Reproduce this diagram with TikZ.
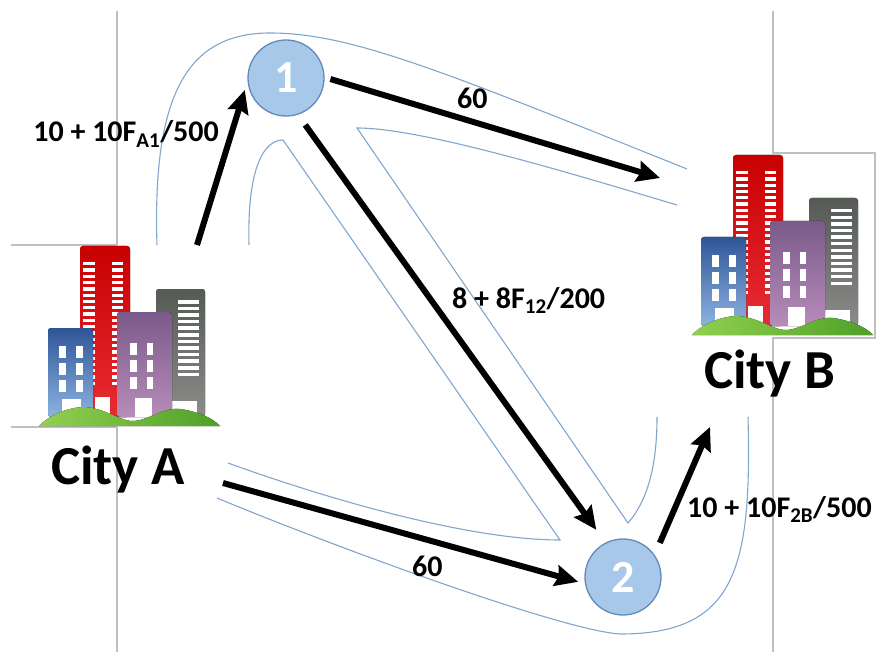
\documentclass[tikz,border=0pt]{standalone}
\usepackage{fontspec}
\setmainfont{Carlito}
\usepackage{tikz}
\usetikzlibrary{positioning}
\usetikzlibrary{arrows.meta}

\definecolor{stopfill}{RGB}{167,200,232}
\definecolor{stopline}{RGB}{98,138,184}
\definecolor{roadline}{RGB}{128,166,206}
\definecolor{framegray}{RGB}{192,192,192}
\definecolor{redtop}{RGB}{200,0,0}
\definecolor{redbot}{RGB}{232,44,52}
\definecolor{bluetop}{RGB}{47,85,151}
\definecolor{bluebot}{RGB}{141,179,226}
\definecolor{purptop}{RGB}{122,90,138}
\definecolor{purpbot}{RGB}{183,140,185}
\definecolor{greytop}{RGB}{85,90,85}
\definecolor{greybot}{RGB}{140,140,138}
\definecolor{hilllight}{RGB}{146,208,80}
\definecolor{hilldark}{RGB}{78,160,40}

\tikzset{stop node/.style={circle,fill=stopfill,draw=stopline,line width=1.3pt,minimum size=76pt,inner sep=0pt,text=white,font=\fontsize{46}{46}\selectfont\bfseries},
  cost/.style={font=\fontsize{30}{30}\selectfont\bfseries,inner sep=0pt},
  city/.style={font=\fontsize{55}{55}\selectfont\bfseries,inner sep=0pt},
  link/.style={line width=6pt,-{Stealth[length=23pt,width=21pt,inset=3pt]}},
  road/.style={draw=roadline,line width=1.1pt},
  frame/.style={draw=framegray,line width=1.2pt},
  % skyline icon, origin at the top left corner of the red tower
  town/.pic={
    \fill[rounded corners=3pt,top color=redtop,bottom color=redbot] (0,171) rectangle (50,0);
    \foreach \k in {0,...,19}{
      \fill[white] (3,{16+6.3*\k}) rectangle (15,{19.3+6.3*\k});
      \fill[white] (32,{16+6.3*\k}) rectangle (43,{19.3+6.3*\k});
    }
    \fill[white] (15,151) rectangle (30,171);
    \fill[rounded corners=3pt,top color=greytop,bottom color=greybot] (76,171) rectangle (125,43);
    \foreach \k in {0,...,11}
      \fill[white] (98,{54+6.6*\k}) rectangle (119,{57.5+6.6*\k});
    \fill[white] (92,155) rectangle (117,171);
    \fill[rounded corners=3pt,top color=bluetop,bottom color=bluebot] (-32,171) rectangle (13,82);
    \fill[rounded corners=3pt,top color=purptop,bottom color=purpbot] (37,171) rectangle (92,66);
    \foreach \k in {0,1,2}{
      \fill[white] (-21,{100+17*\k}) rectangle (-14,{112+17*\k});
      \fill[white] (-4,{100+17*\k}) rectangle (3,{112+17*\k});
      \fill[white] (50,{97+17*\k}) rectangle (57,{109+17*\k});
      \fill[white] (67,{97+17*\k}) rectangle (73,{109+17*\k});
    }
    \fill[white] (-18,153) rectangle (1,171);
    \fill[white] (55,152) rectangle (72,171);
    \fill[left color=hilllight,right color=hilldark] (-41,180) .. controls (-30,168) and (-5,158) .. (12,162)
      .. controls (32,166) and (42,176) .. (55,175) .. controls (70,173) and (85,161) .. (100,163)
      .. controls (115,165) and (132,171) .. (140,180) -- cycle;
  }
}

\begin{document}
\begin{tikzpicture}[x=1pt, y=-1pt]
  \useasboundingbox (0,0) rectangle (883,652);

  % picture frames
  \draw[frame] (117,11) -- (117,245);
  \draw[frame] (11,245) -- (117,245);
  \draw[frame] (11,427) -- (117,427);
  \draw[frame] (117,427) -- (117,652);
  \draw[frame] (773,11) -- (773,153) -- (875,153) -- (875,338) -- (773,338) -- (773,652);

  % road outlines
  \draw[road] (157,245) .. controls (152,90) and (190,33) .. (270,33) .. controls (350,33) and (440,70) .. (687,169);
  \draw[road] (249,245) .. controls (247,165) and (265,140) .. (283,140) -- (560,540) .. controls (470,540) and (330,500) .. (228,463);
  \draw[road] (677,205) .. controls (560,170) and (420,128) .. (357,128) -- (628,523) .. controls (648,500) and (657,465) .. (657,417);
  \draw[road] (748,417) .. controls (752,570) and (735,634) .. (620,634) .. controls (560,630) and (330,545) .. (217,498);

  % the two cities
  \pic at (80,246) {town};
  \pic at (733,155) {town};
  \node[city, anchor=base west] (city a) at (51,484) {City A};
  \node[city, anchor=base west] (city b) at (704,388) {City B};

  \coordinate (a top) at (197,245);
  \coordinate (a side) at (223,483);
  \coordinate (b top) at (660,178);
  \coordinate (b low) at (710,427);

  \node[stop node] (one) at (286,78) {1};
  \node[stop node] (two) at (623,577) {2};

  \draw[link, shorten >=9pt] (a top) -- (one.185);
  \draw[link, shorten <=6pt] (one.1) -- (b top);
  \draw[link, shorten <=12.5pt, shorten >=15.7pt] (one.-72) -- (two.117);
  \draw[link, shorten >=7pt] (a side) -- (two.190);
  \draw[link, shorten <=13pt] (two.35) -- (b low);

  % travel times
  \node[cost, anchor=base east] (t a1) at (219,142) {10 + 10F\textsubscript{A1}/500};
  \node[cost, anchor=base west] (t 1b) at (457,109) {60};
  \node[cost, anchor=base west] (t 12) at (452,308) {8 + 8F\textsubscript{12}/200};
  \node[cost, anchor=base west] (t a2) at (412,576) {60};
  \node[cost, anchor=base west] (t 2b) at (687,517) {10 + 10F\textsubscript{2B}/500};
\end{tikzpicture}
\end{document}
